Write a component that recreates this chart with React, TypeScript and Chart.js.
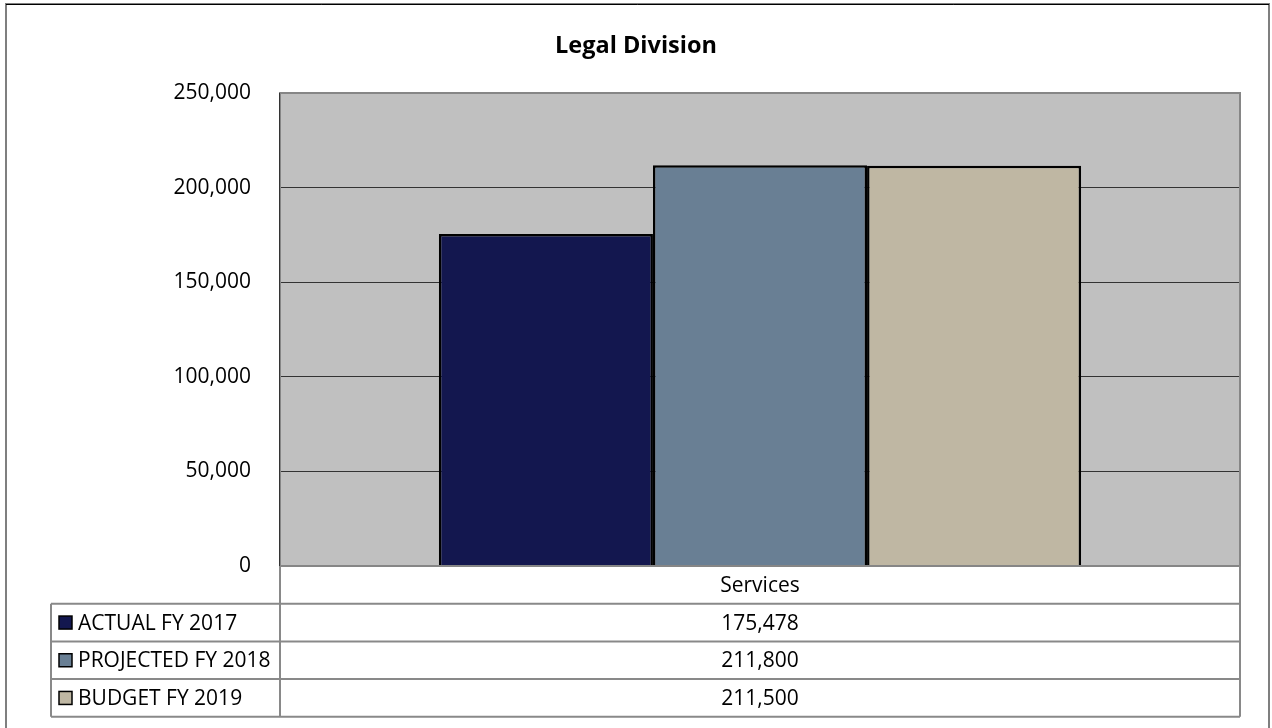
import React, { useEffect, useRef } from "react";
import { Chart, registerables } from "chart.js";

Chart.register(...registerables);

const title = "Legal Division";
const categories = ["Services"];
const seriesNames = ["ACTUAL FY 2017", "PROJECTED FY 2018", "BUDGET FY 2019"];
const seriesValues = [[175478], [211800], [211500]];
const seriesColors = ["#13174F", "#697F94", "#BFB7A3"];
const yTicks = [0, 50000, 100000, 150000, 200000, 250000];

const FONT = "'Open Sans', 'Liberation Sans', sans-serif";

const fmt = (v: number) => v.toLocaleString("en-US");

const tablePlugin = {
  id: "excelDecor",
  beforeDraw(chart: any) {
    const { ctx, chartArea } = chart;
    ctx.save();
    ctx.fillStyle = "#FFFFFF";
    ctx.fillRect(0, 0, chart.width, chart.height);
    ctx.fillStyle = "#C0C0C0";
    ctx.fillRect(chartArea.left, chartArea.top, chartArea.right - chartArea.left, chartArea.bottom - chartArea.top);
    ctx.restore();
  },
  afterDraw(chart: any) {
    const { ctx, chartArea } = chart;
    const L = chartArea.left;
    const R = chartArea.right;
    const T = chartArea.top;
    const B = chartArea.bottom;
    ctx.save();
    // plot border
    ctx.strokeStyle = "#868686";
    ctx.lineWidth = 2;
    ctx.strokeRect(L, T, R - L, B - T);
    ctx.strokeStyle = "#333333";
    ctx.lineWidth = 1;
    ctx.beginPath();
    ctx.moveTo(L - 0.5, T);
    ctx.lineTo(L - 0.5, B);
    ctx.stroke();

    // title
    ctx.fillStyle = "#000";
    ctx.font = `bold 23.5px ${FONT}`;
    ctx.textAlign = "center";
    ctx.textBaseline = "middle";
    ctx.fillText(title, chart.width / 2, 46);

    // data table
    const rowH = 37.7;
    const tableLeft = 51;
    const rows = seriesNames.length;
    ctx.strokeStyle = "#898989";
    ctx.lineWidth = 2;
    ctx.beginPath();
    ctx.moveTo(L, B);
    ctx.lineTo(L, B + rowH * (rows + 1));
    ctx.moveTo(R, B);
    ctx.lineTo(R, B + rowH * (rows + 1));
    for (let i = 1; i <= rows + 1; i++) {
      const y = B + rowH * i;
      ctx.moveTo(tableLeft, y);
      ctx.lineTo(R, y);
    }
    ctx.moveTo(tableLeft, B + rowH);
    ctx.lineTo(tableLeft, B + rowH * (rows + 1));
    ctx.stroke();

    const xs = chart.scales.x;
    ctx.font = `21px ${FONT}`;
    ctx.textBaseline = "middle";
    ctx.fillStyle = "#000";
    categories.forEach((c, ci) => {
      const cx = xs.getPixelForValue(ci);
      ctx.textAlign = "center";
      ctx.fillText(c, cx, B + rowH / 2 + 1);
      seriesValues.forEach((vals, si) => {
        ctx.fillText(fmt(vals[ci]), cx, B + rowH * (si + 1.5) + 1);
      });
    });
    seriesNames.forEach((n, si) => {
      const cy = B + rowH * (si + 1.5);
      ctx.fillStyle = seriesColors[si];
      ctx.fillRect(59, cy - 6.5, 13, 13);
      ctx.strokeStyle = "#000";
      ctx.lineWidth = 1.5;
      ctx.strokeRect(59, cy - 6.5, 13, 13);
      ctx.fillStyle = "#000";
      ctx.textAlign = "left";
      ctx.fillText(n, 78, cy + 1);
    });

    // outer border
    ctx.strokeStyle = "#7F7F7F";
    ctx.lineWidth = 2;
    ctx.beginPath();
    ctx.moveTo(6, 728);
    ctx.lineTo(6, 4);
    ctx.lineTo(1269, 4);
    ctx.lineTo(1269, 728);
    ctx.stroke();
    ctx.strokeStyle = "#000";
    ctx.lineWidth = 1;
    ctx.beginPath();
    ctx.moveTo(6, 4.5);
    ctx.lineTo(1269, 4.5);
    ctx.stroke();
    ctx.restore();
  },
};

export default function App() {
  const ref = useRef<HTMLCanvasElement>(null);
  useEffect(() => {
    document.body.style.margin = "0";
    const chart = new Chart(ref.current as HTMLCanvasElement, {
      type: "bar",
      data: {
        labels: categories,
        datasets: seriesNames.map((n, i) => ({
          label: n,
          data: seriesValues[i],
          backgroundColor: seriesColors[i],
          borderColor: "#000000",
          borderWidth: 2.5,
          categoryPercentage: 0.669,
          barPercentage: 1,
        })),
      },
      options: {
        animation: false,
        responsive: true,
        maintainAspectRatio: false,
        layout: { padding: { left: 0, right: 32, top: 93, bottom: 162 } },
        plugins: {
          legend: { display: false },
          title: { display: false },
          tooltip: { enabled: false },
        },
        scales: {
          x: { display: false },
          y: {
            min: 0,
            max: 250000,
            afterFit: (scale: any) => {
              scale.width = 280;
            },
            afterBuildTicks: (scale: any) => {
              scale.ticks = yTicks.map((v) => ({ value: v }));
            },
            ticks: {
              color: "#000",
              padding: 29,
              font: { family: FONT, size: 21 },
              callback: (v: any) => fmt(Number(v)),
            },
            grid: { color: "#333333", lineWidth: 1, drawTicks: false },
            border: { display: false },
          },
        },
      },
      plugins: [tablePlugin],
    });
    return () => chart.destroy();
  }, []);
  return (
    <div style={{ width: 1272, height: 728, position: "relative" }}>
      <canvas ref={ref} />
    </div>
  );
}
